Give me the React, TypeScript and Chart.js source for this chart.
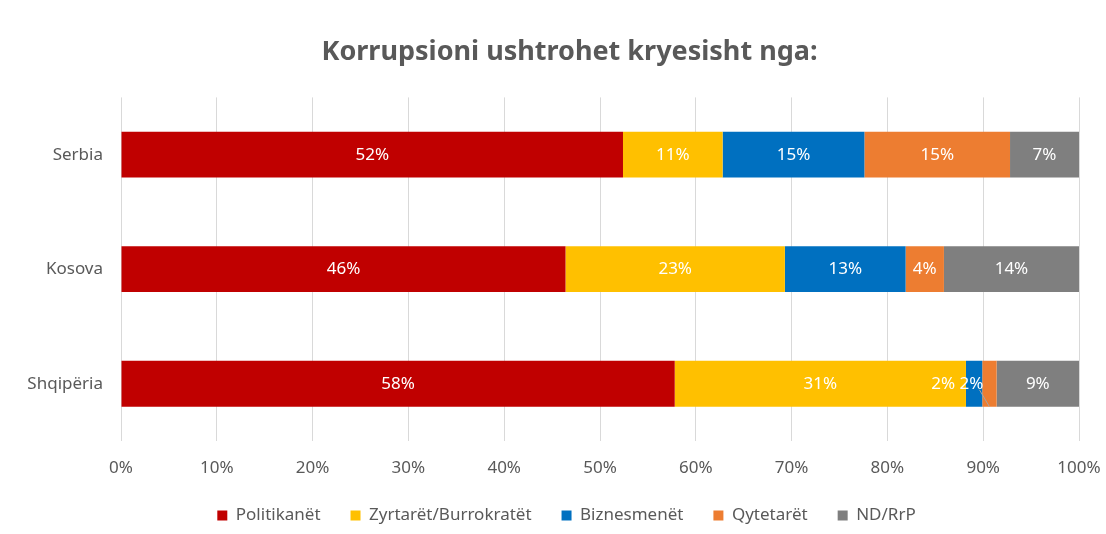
import React, { useEffect, useRef } from "react";
import { Chart, registerables } from "chart.js";

Chart.register(...registerables);

const categories = ["Serbia", "Kosova", "Shqipëria"];
const seriesNames = ["Politikanët", "Zyrtarët/Burrokratët", "Biznesmenët", "Qytetarët", "ND/RrP"];
const politikanet = [52.4, 46.4, 57.8];
const zyrtaret = [10.4, 22.9, 30.4];
const biznesmenet = [14.8, 12.6, 1.7];
const qytetaret = [15.2, 4.0, 1.5];
const ndrrp = [7.2, 14.1, 8.6];
const labelsText = [
  ["52%", "46%", "58%"],
  ["11%", "23%", "31%"],
  ["15%", "13%", "2%"],
  ["15%", "4%", "2%"],
  ["7%", "14%", "9%"],
];
const xTicks = [0, 10, 20, 30, 40, 50, 60, 70, 80, 90, 100];
const colors = ["#C00000", "#FFC000", "#0070C0", "#ED7D31", "#7F7F7F"];
// label nudges (px) for crowded labels: [seriesIndex, categoryIndex, dx, leader]
const labelNudges: [number, number, number, boolean][] = [
  [2, 2, -31, false],
  [3, 2, -18, true],
];

const FONT = "'Noto Sans', 'Open Sans', sans-serif";

const labelPlugin = {
  id: "segLabels",
  beforeLayout(chart: any) {
    const lg = chart.legend;
    if (lg && !lg._patchedFit) {
      const f = lg.fit;
      lg.fit = function () {
        f.call(this);
        this.height = 57;
      };
      lg._patchedFit = true;
    }
  },
  afterLayout(chart: any) {
    const t = chart.titleBlock;
    if (t) {
      t.left += 25;
      t.right += 25;
    }
    const lg = chart.legend;
    if (lg) {
      lg.left += 22;
      lg.right += 22;
    }
  },
  afterDatasetsDraw(chart: any) {
    const ctx = chart.ctx;
    ctx.save();
    ctx.font = `17px ${FONT}`;
    ctx.textAlign = "center";
    ctx.textBaseline = "middle";
    chart.data.datasets.forEach((ds: any, di: number) => {
      const meta = chart.getDatasetMeta(di);
      meta.data.forEach((bar: any, i: number) => {
        const left = bar.base;
        const right = bar.x;
        let cx = (left + right) / 2;
        const cy = bar.y;
        const nudge = labelNudges.find((n) => n[0] === di && n[1] === i);
        if (nudge) {
          cx += nudge[2];
          if (nudge[3]) {
            ctx.strokeStyle = "#A6A6A6";
            ctx.lineWidth = 1;
            ctx.beginPath();
            ctx.moveTo(cx + 8, cy + 6);
            ctx.lineTo((left + right) / 2, cy + 23);
            ctx.stroke();
          }
        }
        ctx.fillStyle = "#FFFFFF";
        ctx.fillText(labelsText[di][i], cx, cy);
      });
    });
    ctx.restore();
  },
};

export default function App() {
  const ref = useRef<HTMLCanvasElement>(null);
  useEffect(() => {
    document.body.style.margin = "0";
    const values = [politikanet, zyrtaret, biznesmenet, qytetaret, ndrrp];
    const chart = new Chart(ref.current!, {
      type: "bar",
      data: {
        labels: categories,
        datasets: seriesNames.map((name, i) => ({
          label: name,
          data: values[i],
          backgroundColor: colors[i],
          borderWidth: 0,
          barPercentage: 0.4,
          categoryPercentage: 1,
        })),
      },
      options: {
        indexAxis: "y",
        animation: false,
        responsive: false,
        maintainAspectRatio: false,
        layout: { padding: { left: 10, right: 27, top: 0, bottom: 0 } },
        scales: {
          x: {
            stacked: true,
            min: 0,
            max: 100,
            afterBuildTicks: (scale: any) => {
              scale.ticks = xTicks.map((v) => ({ value: v }));
            },
            ticks: {
              callback: (v: any) => v + "%",
              color: "#595959",
              font: { size: 17, family: FONT },
              padding: 17,
            },
            grid: { color: "#D9D9D9", drawTicks: false },
            border: { display: false },
            afterFit: (s: any) => {
              s.height = 36;
              s.paddingLeft = 0;
              s.paddingRight = 0;
            },
          },
          y: {
            stacked: true,
            ticks: {
              color: "#595959",
              font: { size: 17, family: FONT },
              padding: 10,
            },
            grid: { display: false },
            border: { display: false },
            afterFit: (s: any) => {
              s.width = 111;
            },
          },
        },
        plugins: {
          title: {
            display: true,
            text: "Korrupsioni ushtrohet kryesisht nga:",
            color: "#595959",
            font: { size: 27, weight: "bold", family: FONT },
            padding: { top: 36, bottom: 29 },
          },
          legend: {
            position: "bottom",
            labels: {
              color: "#595959",
              font: { size: 17, family: FONT },
              boxWidth: 10,
              boxHeight: 10,
              padding: 30,
            },
          },
          tooltip: { enabled: false },
        },
      },
      plugins: [labelPlugin],
    } as any);
    return () => chart.destroy();
  }, []);
  return (
    <div style={{ width: 1106, height: 534 }}>
      <canvas ref={ref} width={1106} height={534} />
    </div>
  );
}
